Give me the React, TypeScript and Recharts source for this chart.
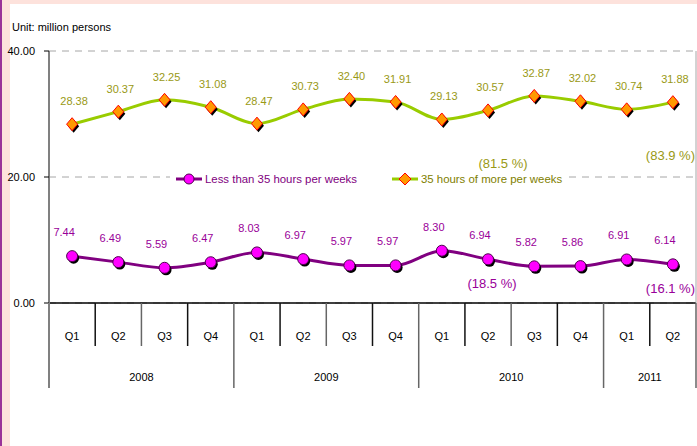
import {
  CartesianGrid,
  ComposedChart,
  LabelList,
  Line,
  XAxis,
  YAxis,
} from 'recharts'

const quarters = ['Q1', 'Q2', 'Q3', 'Q4', 'Q1', 'Q2', 'Q3', 'Q4', 'Q1', 'Q2', 'Q3', 'Q4', 'Q1', 'Q2']
const years = ['2008', '2009', '2010', '2011']
const quartersPerYear = [4, 4, 4, 2]
const under35 = [7.44, 6.49, 5.59, 6.47, 8.03, 6.97, 5.97, 5.97, 8.3, 6.94, 5.82, 5.86, 6.91, 6.14]
const over35 = [28.38, 30.37, 32.25, 31.08, 28.47, 30.73, 32.4, 31.91, 29.13, 30.57, 32.87, 32.02, 30.74, 31.88]
const under35Share = [null, null, null, null, null, null, null, null, null, '(18.5 %)', null, null, null, '(16.1 %)']
const over35Share = [null, null, null, null, null, null, null, null, null, '(81.5 %)', null, null, null, '(83.9 %)']
const yTicks = [0, 20, 40]

const FONT = "'Liberation Sans', Arial, sans-serif"
const PURPLE = '#800080'
const PURPLE_TEXT = '#990099'
const GREEN = '#99cc00'
const OLIVE = '#999915'

// which year each quarter belongs to
const yearIdx: number[] = []
quartersPerYear.forEach((n, yi) => {
  for (let i = 0; i < n; i++) yearIdx.push(yi)
})

const data = quarters.map((q, i) => ({
  key: `${years[yearIdx[i]]}-${q}-${i}`,
  quarter: q,
  under35: under35[i],
  over35: over35[i],
  under35Share: under35Share[i],
  over35Share: over35Share[i],
}))

const PLOT_LEFT = 49
const PLOT_RIGHT = 696
const BAND = (PLOT_RIGHT - PLOT_LEFT) / quarters.length

function QuarterTick(props: any) {
  const { x, y, payload } = props
  const i = data.findIndex((d) => d.key === payload.value)
  if (i < 0) return null
  const yi = yearIdx[i]
  const firstOfYear = yearIdx.indexOf(yi)
  const lastOfYear = firstOfYear + quartersPerYear[yi] - 1
  const middle = firstOfYear + quartersPerYear[yi] / 2 - 1
  const right = x + BAND / 2
  return (
    <g>
      {i === 0 && <line x1={x - BAND / 2} x2={x - BAND / 2} y1={y} y2={y + 85} stroke="#808080" strokeWidth={2} />}
      <line
        x1={right}
        x2={right}
        y1={y}
        y2={i === lastOfYear ? y + 85 : y + 43}
        stroke={i % 2 === 0 ? '#111' : '#666'}
        strokeWidth={1.5}
      />
      <text x={x} y={y + 37} textAnchor="middle" fontSize={11} fontFamily={FONT} fill="#000">
        {quarters[i]}
      </text>
      {i === middle && (
        <text x={right} y={y + 78} textAnchor="middle" fontSize={11} fontFamily={FONT} fill="#000">
          {years[yi]}
        </text>
      )}
    </g>
  )
}

function Diamond({ cx, cy }: { cx: number; cy: number }) {
  const pts = (dx: number, dy: number) =>
    `${cx + dx},${cy - 6.5 + dy} ${cx + 5.5 + dx},${cy + dy} ${cx + dx},${cy + 6.5 + dy} ${cx - 5.5 + dx},${cy + dy}`
  return (
    <g>
      <polygon points={pts(1.5, 2)} fill="#000" />
      <polygon points={pts(0, 0)} fill="#ff9900" stroke="#ff0000" strokeWidth={1} />
    </g>
  )
}

function Ball({ cx, cy }: { cx: number; cy: number }) {
  return (
    <g>
      <circle cx={cx + 1.5} cy={cy + 2} r={5.5} fill="#000" />
      <circle cx={cx} cy={cy} r={5.5} fill="#ff00ff" stroke="#4d004d" strokeWidth={1} />
    </g>
  )
}

function LegendBox() {
  const item = { display: 'flex', alignItems: 'center', gap: 3 } as const
  return (
    <div
      style={{
        display: 'flex',
        gap: 35,
        fontFamily: FONT,
        fontSize: 11.4,
        background: '#fff',
        padding: '1px 6px',
      }}
    >
      <div style={item}>
        <svg width={26} height={14}>
          <line x1={0} x2={26} y1={7} y2={7} stroke={PURPLE} strokeWidth={3} />
          <circle cx={13} cy={7} r={5} fill="#ff00ff" stroke="#4d004d" />
        </svg>
        <span style={{ color: PURPLE }}>Less than 35 hours per weeks</span>
      </div>
      <div style={item}>
        <svg width={26} height={14}>
          <line x1={0} x2={26} y1={7} y2={7} stroke={GREEN} strokeWidth={3} />
          <polygon points="13,1 19,7 13,13 7,7" fill="#ff9900" stroke="#ff0000" />
        </svg>
        <span style={{ color: '#808000' }}>35 hours of more per weeks</span>
      </div>
    </div>
  )
}

const valueLabel = (color: string, dx: number, dy: number) => (p: any) => {
  if (p.value == null) return null
  return (
    <text x={p.x + dx} y={p.y + dy} textAnchor="middle" fontSize={11} fontFamily={FONT} fill={color}>
      {Number(p.value).toFixed(2)}
    </text>
  )
}

// share notes; the one on the last quarter is right-aligned to the plot edge
const noteLabel = (color: string, dx: number, dy: number) => (p: any) => {
  if (!p.value) return null
  const last = p.index === quarters.length - 1
  return (
    <text
      x={last ? p.x + BAND / 2 - 1 : p.x + dx}
      y={p.y + dy}
      textAnchor={last ? 'end' : 'middle'}
      fontSize={13}
      fontFamily={FONT}
      fill={color}
    >
      {p.value}
    </text>
  )
}

export default function App() {
  return (
    <div style={{ position: 'absolute', left: 0, top: 0, width: 697, height: 446, background: '#fde2dc', overflow: 'hidden' }}>
      <div style={{ position: 'absolute', left: 0, top: 0, width: 2, height: 446, background: '#993399' }} />
      <div style={{ position: 'absolute', left: 10, top: 4, width: 687, height: 442, background: '#fff' }} />
      <div style={{ position: 'absolute', left: 12, top: 21, fontFamily: FONT, fontSize: 11, color: '#000' }}>
        Unit: million persons
      </div>
      <div style={{ position: 'absolute', left: 0, top: 0 }}>
        <ComposedChart width={697} height={446} data={data} margin={{ top: 51, right: 0, bottom: 53, left: 0 }}>
          <CartesianGrid vertical={false} stroke="#a6a6a6" strokeDasharray="7 6" />
          <XAxis
            dataKey="key"
            scale="band"
            height={90}
            axisLine={{ stroke: '#000', strokeWidth: 1.5 }}
            tickLine={false}
            tickSize={0}
            tickMargin={0}
            interval={0}
            tick={<QuarterTick />}
          />
          <YAxis
            domain={[0, 40]}
            ticks={yTicks}
            width={49}
            axisLine={{ stroke: '#808080', strokeWidth: 2 }}
            tickLine={{ stroke: '#000' }}
            tickSize={5}
            tickMargin={9}
            tick={{ fontSize: 11, fontFamily: FONT, fill: '#000' }}
            tickFormatter={(v: number) => v.toFixed(2)}
          />
          <YAxis yAxisId="r" orientation="right" width={1} domain={[0, 40]} tick={false} tickLine={false} axisLine={{ stroke: '#a6a6a6' }} />
          <Line
            type="monotone"
            dataKey="over35"
            stroke={GREEN}
            strokeWidth={3}
            dot={(p: any) => <Diamond key={p.index} cx={p.cx} cy={p.cy} />}
            activeDot={false}
            isAnimationActive={false}
          >
            <LabelList dataKey="over35" content={valueLabel(OLIVE, 2, -19)} />
            <LabelList dataKey="over35Share" content={noteLabel(OLIVE, 15, 58)} />
          </Line>
          <Line
            type="monotone"
            dataKey="under35"
            stroke={PURPLE}
            strokeWidth={3}
            dot={(p: any) => <Ball key={p.index} cx={p.cx} cy={p.cy} />}
            activeDot={false}
            isAnimationActive={false}
          >
            <LabelList dataKey="under35" content={valueLabel(PURPLE_TEXT, -8, -20)} />
            <LabelList dataKey="under35Share" content={noteLabel(PURPLE_TEXT, 4, 29)} />
          </Line>
        </ComposedChart>
      </div>
      <div style={{ position: 'absolute', left: 170, top: 171 }}>
        <LegendBox />
      </div>
    </div>
  )
}
